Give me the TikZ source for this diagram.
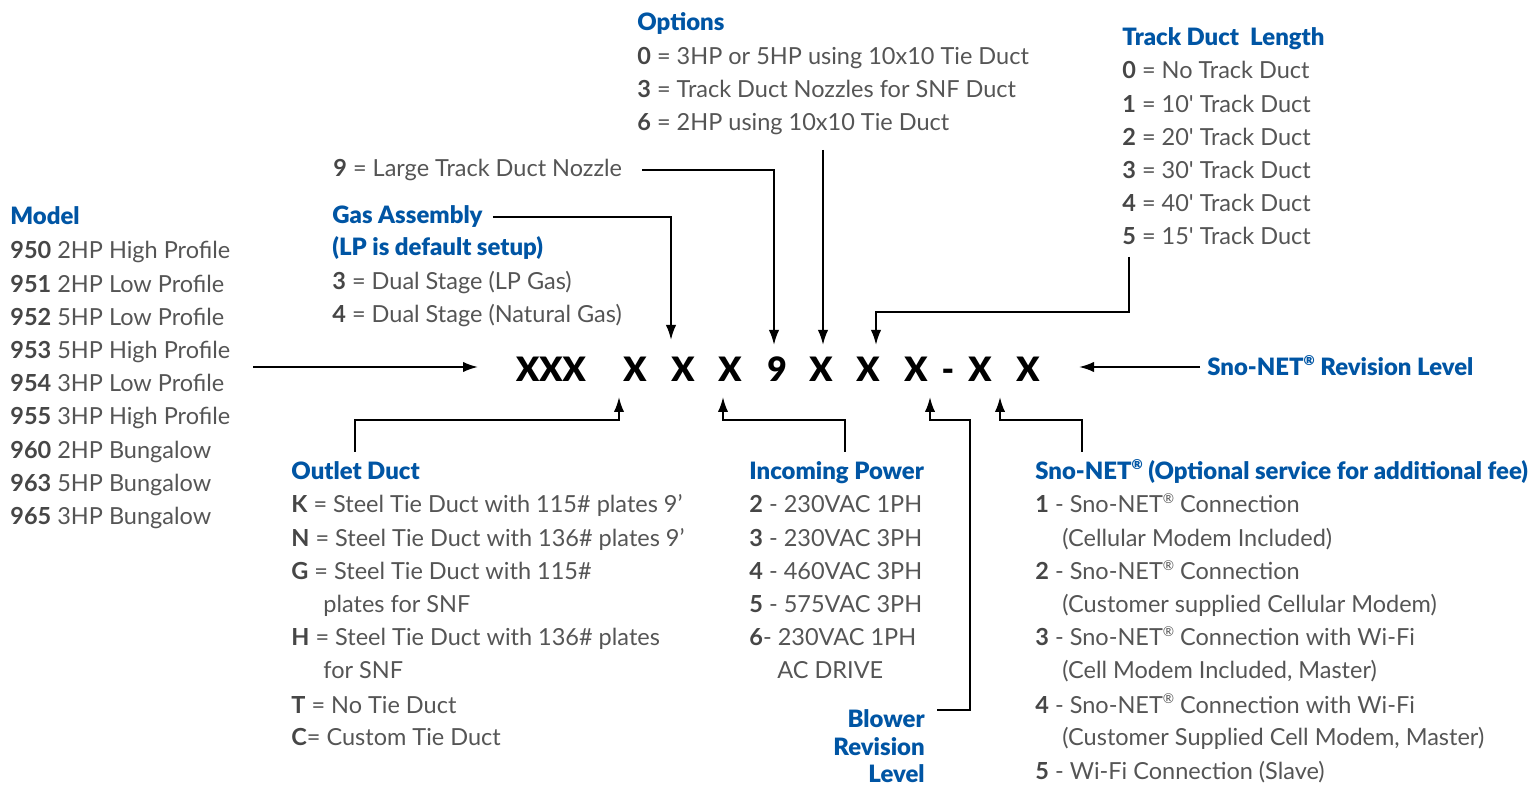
\documentclass[tikz,border=0pt]{standalone}
\usepackage{fontspec}
\setmainfont{Lato}
\newfontfamily\heavy{Lato Black}
\newfontfamily\nomap{Lato}[Ligatures=TeXOff]
\usetikzlibrary{arrows.meta}
\definecolor{hblue}{RGB}{0,85,164}
\definecolor{tgray}{RGB}{85,85,85}
\definecolor{tdark}{RGB}{70,70,70}
\newcommand\regd{\raisebox{0.42em}{\fontsize{6.8}{7}\selectfont ®}}
\newcommand\bn[1]{{\bfseries\color{tdark}#1}}
\newcommand\sq{{\nomap '}}
\begin{document}
\begin{tikzpicture}[x=0.5pt,y=-0.5pt,
  txt/.style={anchor=base west,inner sep=0pt,text=tgray,font=\fontsize{11.75}{14}\selectfont},
  hd/.style={anchor=base west,inner sep=0pt,text=hblue,font=\fontsize{11.95}{14}\selectfont\heavy},
  code/.style={anchor=base,inner sep=0pt,text=black,font=\fontsize{16.8}{20}\selectfont\heavy},
  conn/.style={draw=black,line width=1pt},
  arr/.style={conn,-{Latex[length=7.5pt,width=5.2pt]}}]
\useasboundingbox (0,0) rectangle (1537,785);

% ---- Model
\node[hd] (modelh) at (10,225) {Model};
\foreach [count=\i] \t in {{\bn{950} 2HP High Profile},{\bn{951} 2HP Low Profile},{\bn{952} 5HP Low Profile},{\bn{953} 5HP High Profile},{\bn{954} 3HP Low Profile},{\bn{955} 3HP High Profile},{\bn{960} 2HP Bungalow},{\bn{963} 5HP Bungalow},{\bn{965} 3HP Bungalow}}
  \node[txt] (model\i) at (10,{259+33.2*(\i-1)}) {\t};

% ---- Options
\node[hd] (opth) at (637,31) {Options};
\node[txt] (opt1) at (637,65) {\bn{0} = 3HP or 5HP using 10x10 Tie Duct};
\node[txt] (opt2) at (637,98) {\bn{3} = Track Duct Nozzles for SNF Duct};
\node[txt] (opt3) at (637,131) {\bn{6} = 2HP using 10x10 Tie Duct};

% ---- Track duct length
\node[hd] (trkh) at (1122,46) {Track Duct\ \ Length};
\foreach [count=\i] \t in {{\bn{0} = No Track Duct},{\bn{1} = 10\sq{} Track Duct},{\bn{2} = 20\sq{} Track Duct},{\bn{3} = 30\sq{} Track Duct},{\bn{4} = 40\sq{} Track Duct},{\bn{5} = 15\sq{} Track Duct}}
  \node[txt] (trk\i) at (1122,{79+33.2*(\i-1)}) {\t};

% ---- Nozzle
\node[txt] (noz) at (333,177) {\bn{9} = Large Track Duct Nozzle};

% ---- Gas assembly
\node[hd] (gash) at (332,224) {Gas Assembly};
\node[hd] (gash2) at (332,256) {(LP is default setup)};
\node[txt] (gas1) at (332,290) {\bn{3} = Dual Stage (LP Gas)};
\node[txt] (gas2) at (332,323) {\bn{4} = Dual Stage (Natural Gas)};

% ---- Code
\node[code] (c1) at (551,382) {XXX};
\node[code] (c2) at (635,382) {X};
\node[code] (c3) at (683,382) {X};
\node[code] (c4) at (730,382) {X};
\node[code] (c5) at (777,382) {9};
\node[code] (c6) at (821,382) {X};
\node[code] (c7) at (868,382) {X};
\node[code] (c8) at (916,382) {X};
\node[code] (cd) at (948,382) {-};
\node[code] (c9) at (980,382) {X};
\node[code] (c10) at (1028,382) {X};

% ---- Sno-NET revision
\node[hd] (revh) at (1207,376) {Sno-NET\regd{} Revision Level};

% ---- Outlet duct
\node[hd] (outh) at (291,480) {Outlet Duct};
\node[txt] (out1) at (291,513) {\bn{K} = Steel Tie Duct with 115\# plates 9’};
\node[txt] (out2) at (291,547) {\bn{N} = Steel Tie Duct with 136\# plates 9’};
\node[txt] (out3) at (291,580) {\bn{G} = Steel Tie Duct with 115\#};
\node[txt] (out4) at (323,613) {plates for SNF};
\node[txt] (out5) at (291,646) {\bn{H} = Steel Tie Duct with 136\# plates};
\node[txt] (out6) at (323,679) {for SNF};
\node[txt] (out7) at (291,713) {\bn{T} = No Tie Duct};
\node[txt] (out8) at (291,746) {\bn{C}= Custom Tie Duct};

% ---- Incoming power
\node[hd] (powh) at (749,480) {Incoming Power};
\node[txt] (pow1) at (749,513) {\bn{2} - 230VAC 1PH};
\node[txt] (pow2) at (749,547) {\bn{3} - 230VAC 3PH};
\node[txt] (pow3) at (749,580) {\bn{4} - 460VAC 3PH};
\node[txt] (pow4) at (749,613) {\bn{5} - 575VAC 3PH};
\node[txt] (pow5) at (749,646) {\bn{6}- 230VAC 1PH};
\node[txt] (pow6) at (777,679) {AC DRIVE};

% ---- Blower revision
\node[hd,anchor=base east] (blwh) at (925,727) {Blower};
\node[hd,anchor=base east] (blwh2) at (925,755) {Revision};
\node[hd,anchor=base east] (blwh3) at (925,782) {Level};

% ---- Sno-NET
\node[hd] (snoh) at (1035,480) {Sno-NET\regd{} (Optional service for additional fee)};
\node[txt] (sno1) at (1035,513) {\bn{1} - Sno-NET\regd{} Connection};
\node[txt] (sno2) at (1062,547) {(Cellular Modem Included)};
\node[txt] (sno3) at (1035,580) {\bn{2} - Sno-NET\regd{} Connection};
\node[txt] (sno4) at (1062,613) {(Customer supplied Cellular Modem)};
\node[txt] (sno5) at (1035,646) {\bn{3} - Sno-NET\regd{} Connection with Wi-Fi};
\node[txt] (sno6) at (1062,679) {(Cell Modem Included, Master)};
\node[txt] (sno7) at (1035,713) {\bn{4} - Sno-NET\regd{} Connection with Wi-Fi};
\node[txt] (sno8) at (1062,746) {(Customer Supplied Cell Modem, Master)};
\node[txt] (sno9) at (1035,779) {\bn{5} - Wi-Fi Connection (Slave)};

% ---- connector coordinates
\coordinate (mS) at (253,367);  \coordinate (mT) at (478,367);
\coordinate (rS) at (1200,367); \coordinate (rT) at (1079,367);
\coordinate (gasT) at (671,340);
\coordinate (nozT) at (774,345);
\coordinate (optS) at (823,150); \coordinate (optT) at (823,345);
\coordinate (trkS) at (1129,257); \coordinate (trkJ) at (1129,312); \coordinate (trkT) at (876,345);
\coordinate (outS) at (355,452); \coordinate (outJ) at (355,420); \coordinate (outT) at (619,397);
\coordinate (powS) at (845,452); \coordinate (powJ) at (845,420); \coordinate (powT) at (723,397);
\coordinate (blwJ) at (970,720); \coordinate (blwK) at (970,420); \coordinate (blwT) at (930,397);
\coordinate (snoS) at (1082,452); \coordinate (snoJ) at (1082,420); \coordinate (snoT) at (1000,397);

% ---- connectors
\draw[arr] (mS) -- (mT);
\draw[arr] (rS) -- (rT);
\draw[arr] ([xshift=5pt]gash.east) -| (gasT);
\draw[arr] ([xshift=10pt]noz.east) -| (nozT);
\draw[arr] (optS) -- (optT);
\draw[arr] (trkS) -- (trkJ) -| (trkT);
\draw[arr] (outS) -- (outJ) -| (outT);
\draw[arr] (powS) -- (powJ) -| (powT);
\draw[arr] ([xshift=6pt,yshift=4pt]blwh.east) -- ([yshift=4pt]blwh.east -| blwJ) -- (blwK) -| (blwT);
\draw[arr] (snoS) -- (snoJ) -| (snoT);
\end{tikzpicture}
\end{document}
